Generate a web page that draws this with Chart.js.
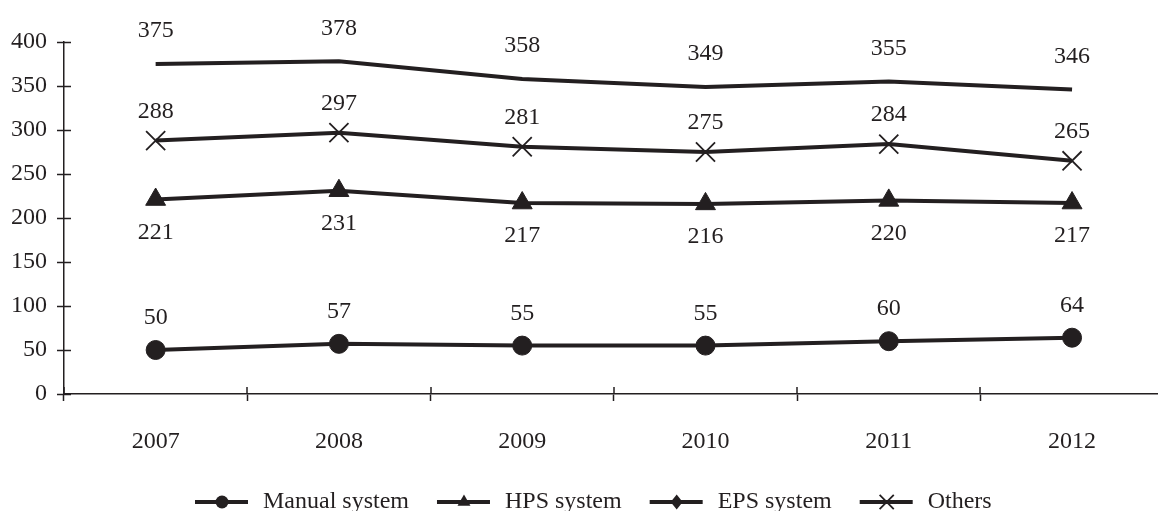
<!DOCTYPE html>
<html>
<head>
<meta charset="utf-8">
<script src="https://cdn.jsdelivr.net/npm/chart.js@4.4.1/dist/chart.umd.min.js"></script>
<style>
  html, body { margin: 0; padding: 0; background: #fff; overflow: hidden; }
  #wrap { width: 1179px; height: 511px; position: relative; }
</style>
</head>
<body>
<div id="wrap"><canvas id="c" width="1179" height="511"></canvas></div>
<script>
const categories = ['2007', '2008', '2009', '2010', '2011', '2012'];
const manualSystem = [50, 57, 55, 55, 60, 64];
const hpsSystem = [221, 231, 217, 216, 220, 217];
const epsSystem = [375, 378, 358, 349, 355, 346];
const others = [288, 297, 281, 275, 284, 265];
const yTicks = [0, 50, 100, 150, 200, 250, 300, 350, 400];

const INK = '#231f20';
const FONT = '"Liberation Serif", "Times New Roman", serif';

const datasets = [
  { label: 'Manual system', data: manualSystem, pointStyle: 'circle', pointRadius: 9.5,
    legendStyle: 'circle', legendRadius: 6.5, labelOffset: -32 },
  { label: 'HPS system', data: hpsSystem, pointStyle: 'triangle', pointRadius: 11.5,
    legendStyle: 'triangle', legendRadius: 7.5, labelOffset: 33 },
  { label: 'EPS system', data: epsSystem, pointStyle: 'rectRot', pointRadius: 0,
    legendStyle: 'rectRot', legendRadius: 7.5, labelOffset: -33 },
  { label: 'Others', data: others, pointStyle: 'crossRot', pointRadius: 13.5,
    legendStyle: 'crossRot', legendRadius: 10, labelOffset: -29 }
].map(d => Object.assign({
  borderColor: INK,
  backgroundColor: INK,
  pointBackgroundColor: INK,
  pointBorderColor: INK,
  pointBorderWidth: d.pointStyle === 'crossRot' ? 1.8 : 1,
  borderWidth: 4,
  tension: 0,
  fill: false,
  clip: false
}, d));

function drawMarker(ctx, style, r, x, y) {
  ctx.save();
  ctx.fillStyle = INK;
  ctx.strokeStyle = INK;
  ctx.beginPath();
  if (style === 'circle') {
    ctx.arc(x, y, r, 0, Math.PI * 2);
    ctx.fill();
  } else if (style === 'triangle') {
    for (let i = 0; i < 3; i++) {
      const a = i * 2 * Math.PI / 3;
      const px = x + Math.sin(a) * r, py = y - Math.cos(a) * r;
      if (i === 0) ctx.moveTo(px, py); else ctx.lineTo(px, py);
    }
    ctx.closePath();
    ctx.fill();
  } else if (style === 'rectRot') {
    ctx.moveTo(x, y - r); ctx.lineTo(x + r * 0.8, y); ctx.lineTo(x, y + r); ctx.lineTo(x - r * 0.8, y);
    ctx.closePath();
    ctx.fill();
  } else if (style === 'crossRot') {
    const o = r * Math.SQRT1_2;
    ctx.lineWidth = 1.8;
    ctx.moveTo(x - o, y - o); ctx.lineTo(x + o, y + o);
    ctx.moveTo(x + o, y - o); ctx.lineTo(x - o, y + o);
    ctx.stroke();
  }
  ctx.restore();
}

const innerTicks = {
  id: 'innerTicks',
  afterDraw(chart) {
    const ctx = chart.ctx;
    const x = chart.scales.x, y = chart.scales.y;
    ctx.save();
    ctx.strokeStyle = INK;
    ctx.lineWidth = 1.5;
    ctx.beginPath();
    y.ticks.forEach((t, i) => {
      const py = Math.round(y.getPixelForTick(i)) + 0.5;
      ctx.moveTo(y.right, py); ctx.lineTo(y.right + 7, py);
    });
    for (let i = 0; i <= categories.length; i++) {
      const px = Math.round(x.left + i * (x.width / categories.length));
      ctx.moveTo(px, x.top); ctx.lineTo(px, x.top - 7);
    }
    ctx.stroke();
    ctx.restore();
  }
};

const dataLabels = {
  id: 'dataLabels',
  afterDatasetsDraw(chart) {
    const ctx = chart.ctx;
    ctx.save();
    ctx.fillStyle = INK;
    ctx.font = '24px ' + FONT;
    ctx.textAlign = 'center';
    ctx.textBaseline = 'middle';
    chart.data.datasets.forEach((ds, di) => {
      const meta = chart.getDatasetMeta(di);
      meta.data.forEach((pt, i) => {
        ctx.fillText(String(ds.data[i]), pt.x, pt.y + ds.labelOffset);
      });
    });
    ctx.restore();
  }
};

const customLegend = {
  id: 'customLegend',
  afterDraw(chart) {
    const ctx = chart.ctx;
    ctx.save();
    ctx.font = '24px ' + FONT;
    ctx.textBaseline = 'middle';
    ctx.textAlign = 'left';
    const ly = 502;
    let x = 195;
    chart.data.datasets.forEach(ds => {
      ctx.strokeStyle = INK;
      ctx.lineWidth = 4;
      ctx.beginPath();
      ctx.moveTo(x, ly); ctx.lineTo(x + 53, ly);
      ctx.stroke();
      drawMarker(ctx, ds.legendStyle, ds.legendRadius, x + 27, ly);
      ctx.fillStyle = INK;
      ctx.fillText(ds.label, x + 68, ly);
      x += 68 + ctx.measureText(ds.label).width + 28;
    });
    ctx.restore();
  }
};

new Chart(document.getElementById('c'), {
  type: 'line',
  data: { labels: categories, datasets },
  options: {
    responsive: false,
    animation: false,
    events: [],
    layout: { padding: { top: 42, right: 3, left: 0, bottom: 0 } },
    plugins: { legend: { display: false }, tooltip: { enabled: false } },
    scales: {
      x: {
        type: 'category',
        offset: true,
        grid: { display: true, drawOnChartArea: false, offset: true, tickLength: 7, tickColor: INK, tickWidth: 1.5 },
        border: { display: true, color: INK, width: 1.5 },
        ticks: { color: INK, font: { family: FONT, size: 24 }, padding: 26, maxRotation: 0, autoSkip: false },
        afterFit(s) { s.height = 117; }
      },
      y: {
        min: 0, max: 400,
        afterBuildTicks(s) { s.ticks = yTicks.map(v => ({ value: v })); },
        grid: { display: true, drawOnChartArea: false, tickLength: 7, tickColor: INK, tickWidth: 1.5 },
        border: { display: true, color: INK, width: 1.5 },
        ticks: { color: INK, font: { family: FONT, size: 24 }, padding: 10 },
        afterFit(s) { s.width = 64; }
      }
    }
  },
  plugins: [innerTicks, dataLabels, customLegend]
});
</script>
</body>
</html>
